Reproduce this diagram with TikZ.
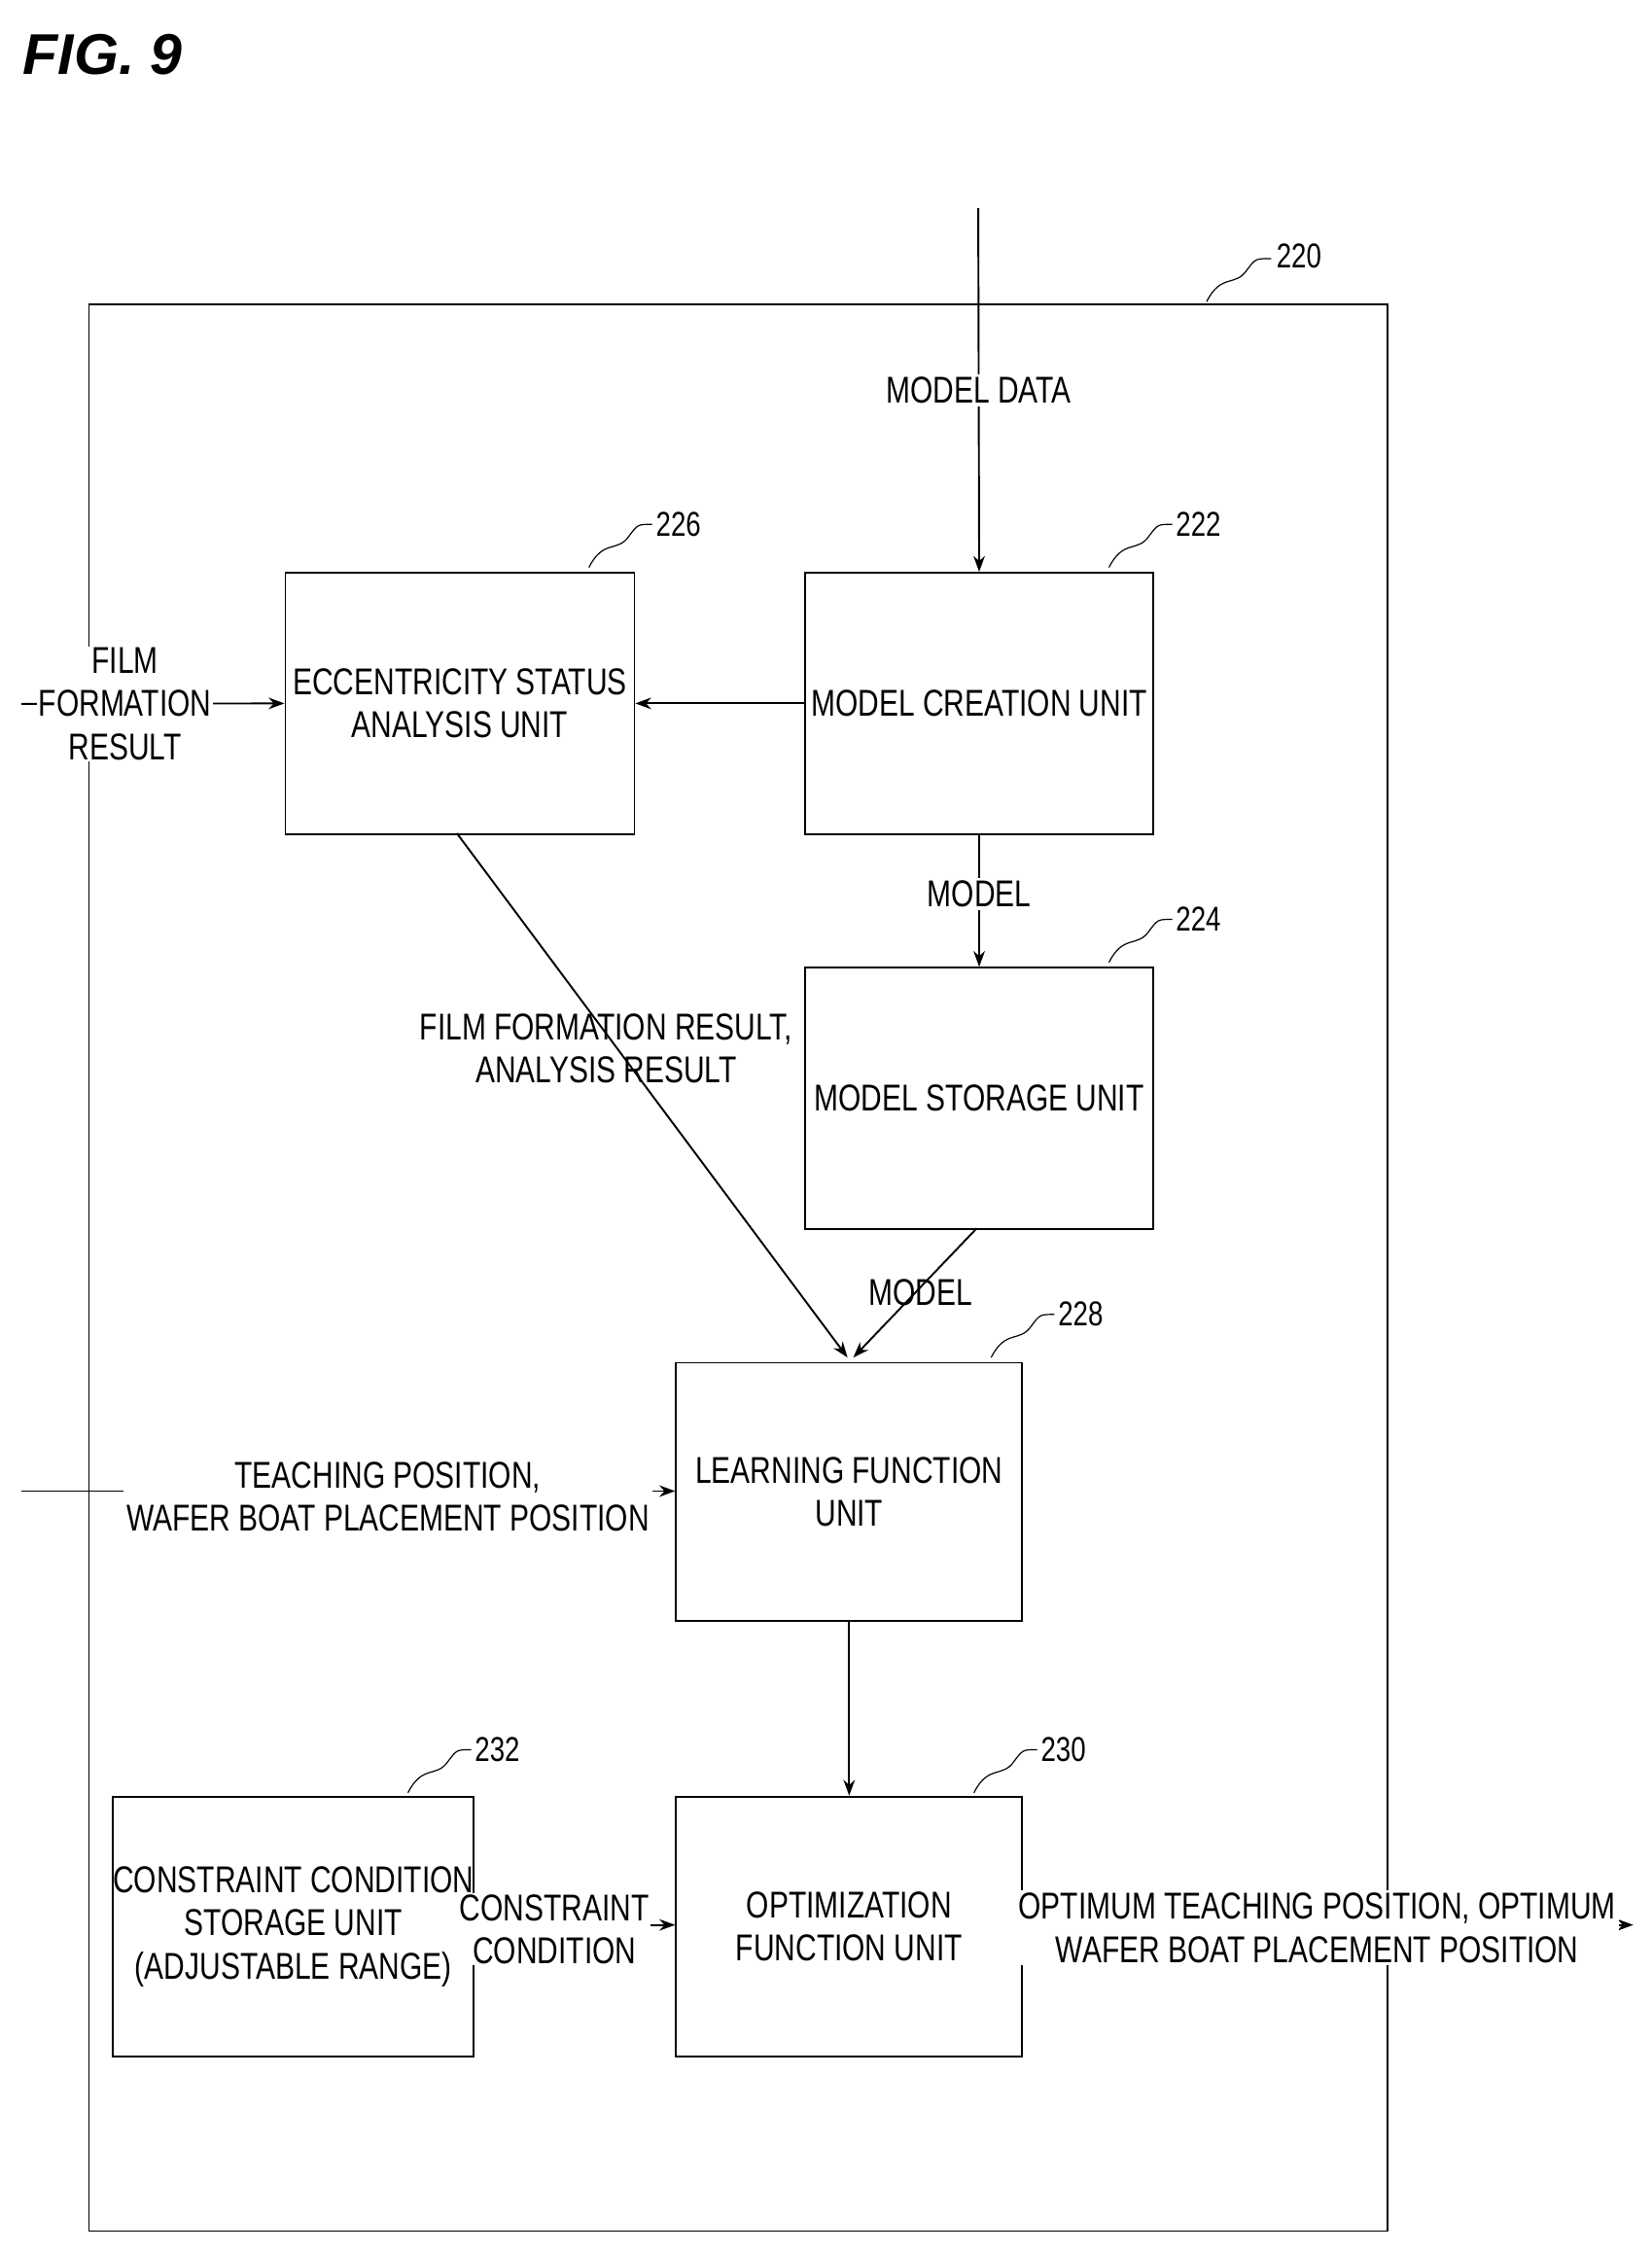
\documentclass[tikz,border=0pt]{standalone}
\usepackage{fontspec}
\setmainfont[FakeStretch=0.78]{Liberation Sans}
\usetikzlibrary{arrows.meta}
\begin{document}
\begin{tikzpicture}[x=1pt,y=-1pt,
  box/.style={draw,line width=1.3pt,anchor=north west,inner sep=0pt,font=\fontsize{26}{30}\selectfont,align=center},
  lab/.style={font=\fontsize{26}{30}\selectfont,align=center,inner sep=2pt},
  num/.style={font=\fontsize{24}{28}\selectfont,anchor=west,inner sep=0pt},
  arr/.style={-{Stealth[length=11pt,width=8pt]},line width=1.3pt},
  line width=1.3pt]
\useasboundingbox (0,0) rectangle (1150,1567);
\node[anchor=west,font=\fontsize{40}{44}\selectfont\bfseries\itshape\fontspec{Liberation Sans}] (title) at (12,38) {FIG. 9};
\draw[line width=1pt] (62,212) rectangle (966,1553);
\node[num] (n220) at (888,178) {220};
\draw[line width=0.8pt] (840,210) .. controls (850,190) and (860,200) .. (868,188) .. controls (874,180) .. (885,180);
\node[box,minimum width=243pt,minimum height=182pt] (b226) at (198,398) {ECCENTRICITY STATUS\\ANALYSIS UNIT};
\node[box,minimum width=242pt,minimum height=182pt] (b222) at (560,398) {MODEL CREATION UNIT};
\node[box,minimum width=242pt,minimum height=182pt] (b224) at (560,673) {MODEL STORAGE UNIT};
\node[box,minimum width=241pt,minimum height=180pt] (b228) at (470,948) {LEARNING FUNCTION\\UNIT};
\node[box,minimum width=241pt,minimum height=181pt] (b230) at (470,1250) {OPTIMIZATION\\FUNCTION UNIT};
\node[box,minimum width=242pt,minimum height=181pt] (b232) at (78,1250) {CONSTRAINT CONDITION\\STORAGE UNIT\\(ADJUSTABLE RANGE)};
\foreach \x/\y/\t in {410/395/226,772/395/222,772/670/224,690/945/228,678/1248/230,284/1248/232}{
  \draw[line width=0.8pt] (\x,\y) .. controls (\x+10,\y-20) and (\x+20,\y-10) .. (\x+28,\y-22) .. controls (\x+34,\y-30) .. (\x+44,\y-30);
  \node[num] at (\x+46,\y-30) {\t};
}
\coordinate (top) at (681,145);
\draw[arr] (top) -- node[lab,fill=white,pos=0.5] {MODEL DATA} (b222.north);
\coordinate (filmin) at (15,490);
\draw[arr] (filmin) -- (b226.west);
\node[lab,fill=white,inner sep=1pt] (film) at (87,490) {FILM\\FORMATION\\RESULT};
\draw[arr,{Stealth[length=11pt,width=8pt]}-] (b226.east) -- (b222.west);
\draw[arr] (b222.south) -- node[lab,fill=white,pos=0.45] {MODEL} (b224.north);
\draw[arr] (318,580) -- (590,945);
\node[lab] (far) at (422,730) {FILM FORMATION RESULT,\\ANALYSIS RESULT};
\draw[arr] (680,855) -- (594,945);
\node[lab] (m2) at (641,900) {MODEL};
\coordinate (teach) at (15,1038);
\draw[arr] (teach) -- (b228.west |- teach);
\node[lab,fill=white] (tl) at (270,1042) {TEACHING POSITION,\\WAFER BOAT PLACEMENT POSITION};
\draw[arr] (b228.south) -- (b230.north);
\draw[arr] (b232.east |- 0,1340) -- (b230.west |- 0,1340);
\node[lab,fill=white,inner sep=1pt] (cc) at (386,1343) {CONSTRAINT\\CONDITION};
\coordinate (out) at (1137,1340);
\draw[arr] (b230.east |- out) -- (out);
\node[lab,fill=white] (ol) at (917,1342) {OPTIMUM TEACHING POSITION, OPTIMUM\\WAFER BOAT PLACEMENT POSITION};
\end{tikzpicture}
\end{document}
